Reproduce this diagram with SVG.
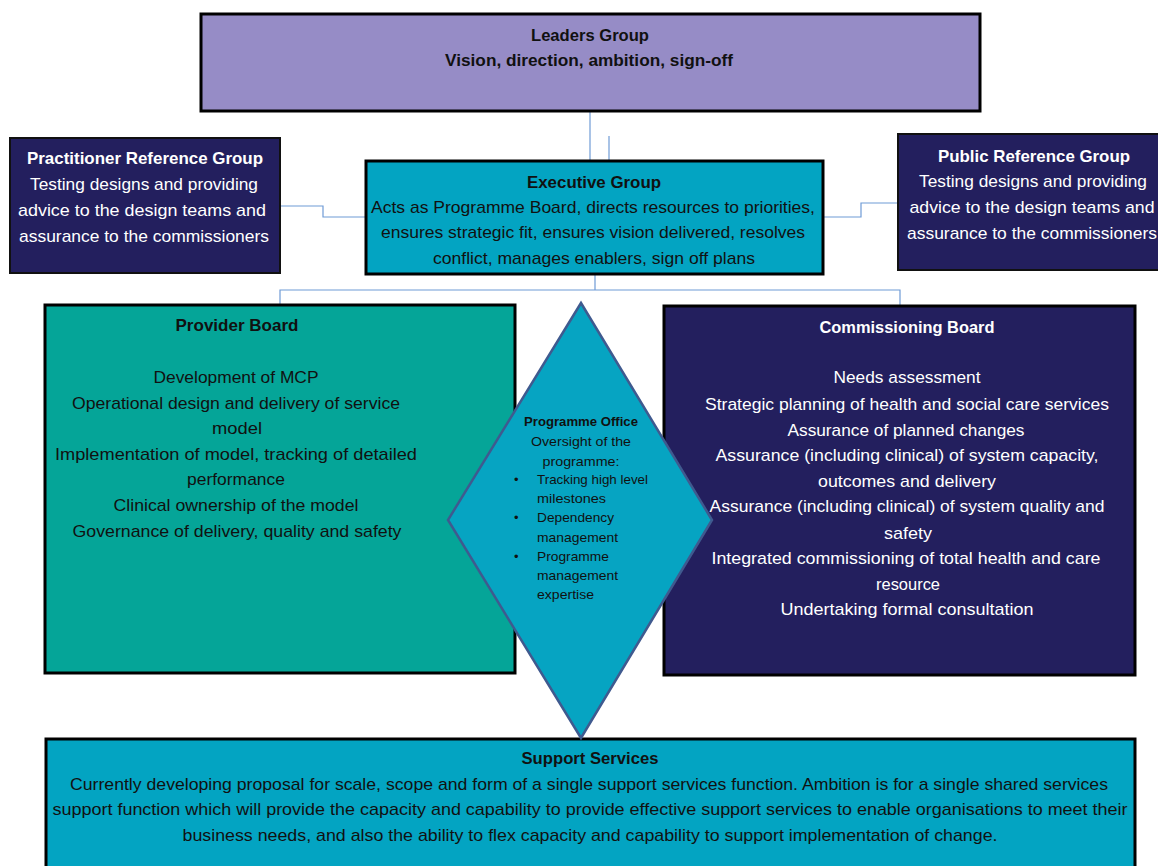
<svg xmlns="http://www.w3.org/2000/svg" width="1158" height="866" viewBox="0 0 1158 866">
<style>
.t{font-family:"Liberation Sans",Arial,sans-serif;font-size:17px;text-anchor:middle}
.b{font-weight:bold}
.w{fill:#ffffff}
.k{fill:#111111}
.s{font-size:13px}
.box{stroke:#000;stroke-width:3}
.conn{fill:none;stroke:#6f9bd6;stroke-width:1.2}
</style>
<rect width="1158" height="866" fill="#ffffff"/>
<g id="connectors">
<path class="conn" d="M590 112 V161"/>
<path class="conn" d="M609 136 V182"/>
<path class="conn" d="M280 206 H323 V217 H366"/>
<path class="conn" d="M823 217 H861 V203 H898"/>
<path class="conn" d="M595 274 V290 M280 305 V290 H900 V306"/>
</g>
<g id="leaders">
<rect class="box" x="201" y="14" width="779" height="97" fill="#968cc6"/>
<text class="t b k" x="590" y="41" textLength="118" lengthAdjust="spacingAndGlyphs">Leaders Group</text>
<text class="t b k" x="589" y="66" textLength="288" lengthAdjust="spacingAndGlyphs">Vision, direction, ambition, sign-off</text>
</g>
<g id="practitioner">
<rect x="10" y="138" width="270" height="135" fill="#231f5e" stroke="#111" stroke-width="2"/>
<text class="t b w" x="145" y="164" textLength="236" lengthAdjust="spacingAndGlyphs">Practitioner Reference Group</text>
<text class="t w" x="144" y="190" textLength="228" lengthAdjust="spacingAndGlyphs">Testing designs and providing</text>
<text class="t w" x="142" y="216" textLength="248" lengthAdjust="spacingAndGlyphs">advice to the design teams and</text>
<text class="t w" x="144" y="242" textLength="250" lengthAdjust="spacingAndGlyphs">assurance to the commissioners</text>
</g>
<g id="public">
<rect x="898" y="134" width="272" height="136" fill="#231f5e" stroke="#111" stroke-width="2"/>
<text class="t b w" x="1034" y="162" textLength="192" lengthAdjust="spacingAndGlyphs">Public Reference Group</text>
<text class="t w" x="1033" y="187" textLength="228" lengthAdjust="spacingAndGlyphs">Testing designs and providing</text>
<text class="t w" x="1032" y="213" textLength="245" lengthAdjust="spacingAndGlyphs">advice to the design teams and</text>
<text class="t w" x="1032" y="239" textLength="250" lengthAdjust="spacingAndGlyphs">assurance to the commissioners</text>
</g>
<g id="executive">
<rect class="box" x="366" y="161" width="457" height="113" fill="#03a4c2"/>
<text class="t b k" x="594" y="188" textLength="134" lengthAdjust="spacingAndGlyphs">Executive Group</text>
<text class="t k" x="593" y="213" textLength="444" lengthAdjust="spacingAndGlyphs">Acts as Programme  Board, directs resources to priorities,</text>
<text class="t k" x="593" y="238" textLength="424" lengthAdjust="spacingAndGlyphs">ensures strategic fit, ensures vision delivered, resolves</text>
<text class="t k" x="594" y="264" textLength="322" lengthAdjust="spacingAndGlyphs">conflict, manages enablers, sign off plans</text>
</g>
<g id="provider">
<rect class="box" x="45" y="305" width="470" height="368" fill="#05a598"/>
<text class="t b k" x="237" y="331" textLength="123" lengthAdjust="spacingAndGlyphs">Provider Board</text>
<text class="t k" x="236" y="383" textLength="165" lengthAdjust="spacingAndGlyphs">Development of MCP</text>
<text class="t k" x="236" y="409" textLength="328" lengthAdjust="spacingAndGlyphs">Operational design and delivery of service</text>
<text class="t k" x="237" y="434" textLength="50" lengthAdjust="spacingAndGlyphs">model</text>
<text class="t k" x="236" y="460" textLength="362" lengthAdjust="spacingAndGlyphs">Implementation  of model, tracking of detailed</text>
<text class="t k" x="236" y="485" textLength="98" lengthAdjust="spacingAndGlyphs">performance</text>
<text class="t k" x="236" y="511" textLength="245" lengthAdjust="spacingAndGlyphs">Clinical ownership of the model</text>
<text class="t k" x="237" y="537" textLength="329" lengthAdjust="spacingAndGlyphs">Governance  of delivery, quality and safety</text>
</g>
<g id="commissioning">
<rect class="box" x="664" y="306" width="471" height="369" fill="#231f5e"/>
<text class="t b w" x="907" y="333" textLength="175" lengthAdjust="spacingAndGlyphs">Commissioning Board</text>
<text class="t w" x="907" y="383" textLength="147" lengthAdjust="spacingAndGlyphs">Needs assessment</text>
<text class="t w" x="907" y="410" textLength="404" lengthAdjust="spacingAndGlyphs">Strategic planning of health and social care services</text>
<text class="t w" x="906" y="436" textLength="237" lengthAdjust="spacingAndGlyphs">Assurance of planned changes</text>
<text class="t w" x="907" y="461" textLength="383" lengthAdjust="spacingAndGlyphs">Assurance (including clinical)  of system capacity,</text>
<text class="t w" x="907" y="487" textLength="178" lengthAdjust="spacingAndGlyphs">outcomes  and delivery</text>
<text class="t w" x="907" y="512" textLength="395" lengthAdjust="spacingAndGlyphs">Assurance (including clinical) of system quality and</text>
<text class="t w" x="908" y="539" textLength="48" lengthAdjust="spacingAndGlyphs">safety</text>
<text class="t w" x="906" y="564" textLength="389" lengthAdjust="spacingAndGlyphs">Integrated commissioning of total health and care</text>
<text class="t w" x="908" y="590" textLength="64" lengthAdjust="spacingAndGlyphs">resource</text>
<text class="t w" x="907" y="615" textLength="253" lengthAdjust="spacingAndGlyphs">Undertaking  formal consultation</text>
</g>
<g id="support">
<rect class="box" x="46" y="739" width="1089" height="140" fill="#03a4c2"/>
<text class="t b k" x="590" y="764" textLength="137" lengthAdjust="spacingAndGlyphs">Support Services</text>
<text class="t k" x="589" y="790" textLength="1038" lengthAdjust="spacingAndGlyphs">Currently developing proposal for scale, scope and form of a single support services function.  Ambition  is for a single shared services</text>
<text class="t k" x="590" y="815" textLength="1075" lengthAdjust="spacingAndGlyphs">support function which will provide the capacity and capability to provide effective support services to enable organisations to meet their</text>
<text class="t k" x="590" y="841" textLength="815" lengthAdjust="spacingAndGlyphs">business needs, and also the ability to flex capacity and capability to support implementation of change.</text>
</g>
<g id="programme-office">
<polygon points="581,303 712,520 581,738 448,520" fill="#06a4c2" stroke="#3f5a8f" stroke-width="2.5"/>
<text class="t s b k" x="581" y="426" textLength="114" lengthAdjust="spacingAndGlyphs">Programme  Office</text>
<text class="t s k" x="581" y="446" textLength="100" lengthAdjust="spacingAndGlyphs">Oversight of the</text>
<text class="t s k" x="581" y="466" textLength="77" lengthAdjust="spacingAndGlyphs">programme:</text>
<g class="t s k" style="text-anchor:start">
<text x="514" y="484">•</text>
<text x="537" y="484" textLength="111" lengthAdjust="spacingAndGlyphs">Tracking high level</text>
<text x="537" y="503" textLength="69" lengthAdjust="spacingAndGlyphs">milestones</text>
<text x="514" y="522">•</text>
<text x="537" y="522" textLength="77" lengthAdjust="spacingAndGlyphs">Dependency</text>
<text x="537" y="542" textLength="81" lengthAdjust="spacingAndGlyphs">management</text>
<text x="514" y="561">•</text>
<text x="537" y="561" textLength="72" lengthAdjust="spacingAndGlyphs">Programme</text>
<text x="537" y="580" textLength="81" lengthAdjust="spacingAndGlyphs">management</text>
<text x="537" y="599" textLength="57" lengthAdjust="spacingAndGlyphs">expertise</text>
</g>
</g>
</svg>
